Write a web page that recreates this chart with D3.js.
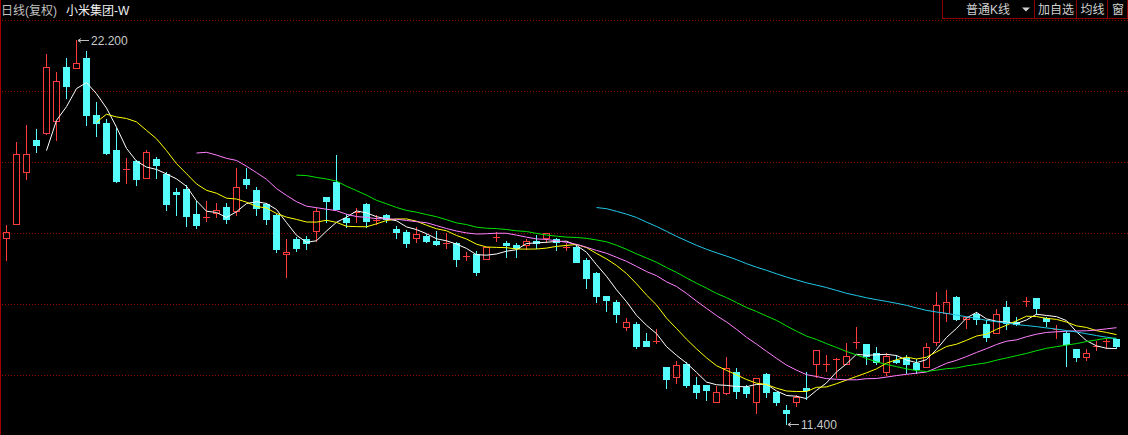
<!DOCTYPE html>
<html><head><meta charset="utf-8">
<script src="https://cdn.jsdelivr.net/npm/d3@7/dist/d3.min.js"></script>
<style>
html,body{margin:0;padding:0;background:#000;overflow:hidden}
svg{display:block}
text{font-family:"Liberation Sans","Noto Sans CJK SC",sans-serif}
</style></head><body>
<svg id="c" width="1128" height="435"></svg>
<script>
const days = d3.range(112);
const open = [16.62,17.02,18.50,19.39,19.59,19.93,21.43,21.40,21.70,20.09,
19.87,19.11,18.56,18.81,18.33,18.84,18.43,17.93,18.01,17.31,
17.21,17.33,17.50,17.40,18.28,17.97,17.58,17.27,16.17,16.60,
16.60,16.83,17.78,18.21,17.19,17.36,17.58,17.14,17.28,16.88,
16.79,16.64,16.69,16.55,16.50,16.48,16.13,16.17,16.03,16.67,
16.48,16.43,16.43,16.56,16.62,16.60,16.39,16.39,16.01,15.64,
15.00,14.82,14.12,14.21,13.73,13.73,12.99,12.73,13.09,12.50,
12.50,12.03,12.28,12.87,12.43,12.03,12.81,12.31,11.79,12.01,
12.40,13.08,13.08,13.24,13.08,13.71,13.65,13.39,12.85,13.20,
13.26,13.12,13.01,13.71,14.51,14.96,14.35,14.49,14.21,13.95,
14.68,14.28,14.86,14.94,14.37,14.07,13.95,13.51,13.28,13.59,
13.73,13.79];
const high = [17.00,19.32,19.81,19.69,21.81,21.30,21.70,22.20,21.90,20.45,
19.97,19.72,18.87,18.83,19.11,18.92,18.48,18.03,18.12,17.67,
17.67,17.62,17.61,18.59,18.61,18.06,17.61,17.31,16.60,16.67,
16.69,17.47,17.78,18.97,17.31,17.48,17.62,17.28,17.30,16.97,
16.86,16.93,16.74,16.83,16.76,16.53,16.23,16.27,16.39,16.81,
16.55,16.48,16.60,16.72,16.76,16.64,16.48,16.43,16.06,15.68,
15.00,14.88,14.37,14.28,13.95,14.06,12.99,13.17,13.15,12.73,
12.50,12.48,13.28,12.98,12.50,12.69,12.84,12.31,11.93,12.22,
12.85,13.47,13.34,13.26,13.67,14.12,13.65,13.57,13.39,13.34,
13.34,13.22,13.69,15.11,15.17,15.00,14.42,14.54,14.33,14.63,
14.86,14.40,14.98,14.94,14.40,14.18,14.02,13.51,13.50,13.73,
13.81,13.79];
const low = [16.01,17.02,18.29,19.04,19.55,19.39,20.56,21.40,19.81,19.51,
18.99,18.21,18.19,18.12,18.31,18.33,17.42,17.28,16.97,16.92,
17.11,17.23,17.04,17.28,18.03,17.27,17.02,16.23,15.54,16.27,
16.31,16.56,17.09,17.46,16.95,17.08,16.93,17.02,17.09,16.64,
16.39,16.51,16.53,16.43,16.36,15.85,16.01,15.59,16.03,16.56,
16.11,16.11,16.32,16.34,16.51,16.29,16.29,15.96,15.22,14.82,
14.59,14.28,14.04,13.55,13.60,13.67,12.40,12.54,12.45,12.14,
12.08,12.03,12.24,12.14,12.17,11.70,12.15,11.93,11.40,11.91,
12.10,12.73,12.90,12.71,13.08,13.53,13.08,13.08,12.78,13.11,
12.83,12.84,13.01,13.62,14.31,14.33,14.09,14.20,13.74,13.95,
14.06,14.18,14.73,14.49,14.16,13.83,13.04,13.17,13.20,13.48,
13.53,13.53];
const close = [16.79,18.99,18.99,19.25,21.43,21.04,20.91,21.54,20.09,19.87,
19.01,18.23,18.56,18.29,19.04,18.68,17.59,17.87,17.25,17.00,
17.21,17.42,17.16,18.06,18.15,17.47,17.17,16.31,16.23,16.36,
16.48,17.39,17.68,17.46,17.07,17.36,17.12,17.14,17.17,16.79,
16.50,16.74,16.56,16.46,16.50,16.04,16.13,15.68,16.39,16.67,
16.43,16.34,16.55,16.48,16.76,16.53,16.39,15.96,15.51,15.01,
14.90,14.50,14.28,13.60,13.60,13.73,12.67,13.06,12.50,12.31,
12.36,12.29,12.97,12.34,12.28,12.69,12.31,12.03,11.70,12.17,
12.36,13.47,13.08,13.24,13.31,13.71,13.32,13.15,13.31,13.14,
13.08,12.95,13.57,14.75,14.82,14.35,14.42,14.35,13.84,14.49,
14.23,14.21,14.86,14.65,14.31,14.07,13.65,13.29,13.39,13.59,
13.73,13.60];
const maPeriods = [5, 10, 20, 30, 60];
const maColors = ["#ffffff", "#ffff00", "#ff80ff", "#00e400", "#20c8e8"];
const gridPrices = [22.77, 20.77, 18.77, 16.77, 14.77, 12.77];
const titleLeft = "日线(复权)";
const titleName = "小米集团-W";
const buttons = ["普通K线", "加自选", "均线", "窗"];
const maxLabel = "22.200", minLabel = "11.400";

const svg = d3.select("#c");
const UP = "#ff3c3c", DOWN = "#54fcfc", GRID = "#8c0000";
const x = d3.scaleLinear().domain([0, 111]).range([6, 1116]);
const y = d3.scaleLinear().domain([11.4, 22.2]).range([424, 40]);

// grid
svg.append("g").selectAll("line").data(gridPrices).join("line")
  .attr("x1", 2).attr("x2", 1128)
  .attr("y1", d => Math.round(y(d)) + 0.5).attr("y2", d => Math.round(y(d)) + 0.5)
  .attr("stroke", GRID).attr("stroke-dasharray", "1,2");
// left border
svg.append("line").attr("x1", 0.5).attr("x2", 0.5).attr("y1", 0).attr("y2", 435)
  .attr("stroke", "#a00000");

// candles
const g = svg.append("g").attr("shape-rendering", "crispEdges");
days.forEach(i => {
  const cx = Math.round(x(i));
  const o = open[i], c = close[i], h = high[i], l = low[i];
  const up = c >= o;
  const col = up ? UP : DOWN;
  const yt = Math.round(y(Math.max(o, c))), yb = Math.round(y(Math.min(o, c)));
  const yh = Math.round(y(h)), yl = Math.round(y(l));
  if (up) {
    if (yb - yt <= 1) {
      g.append("line").attr("x1", cx + 0.5).attr("x2", cx + 0.5).attr("y1", yh).attr("y2", yl + 1).attr("stroke", col);
      g.append("line").attr("x1", cx - 3).attr("x2", cx + 4).attr("y1", yt + 0.5).attr("y2", yt + 0.5).attr("stroke", col);
    } else {
      if (yh < yt) g.append("line").attr("x1", cx + 0.5).attr("x2", cx + 0.5).attr("y1", yh).attr("y2", yt).attr("stroke", col);
      if (yl > yb) g.append("line").attr("x1", cx + 0.5).attr("x2", cx + 0.5).attr("y1", yb + 1).attr("y2", yl + 1).attr("stroke", col);
      g.append("rect").attr("x", cx - 2.5).attr("y", yt + 0.5).attr("width", 6).attr("height", yb - yt)
        .attr("fill", "none").attr("stroke", col);
    }
  } else {
    g.append("line").attr("x1", cx + 0.5).attr("x2", cx + 0.5).attr("y1", yh).attr("y2", yl + 1).attr("stroke", col);
    g.append("rect").attr("x", cx - 3).attr("y", yt).attr("width", 7).attr("height", Math.max(1, yb - yt + 1))
      .attr("fill", col);
  }
});

// moving averages
maPeriods.forEach((p, k) => {
  const pts = days.filter(i => i >= p - 1).map(i => [i, d3.mean(close.slice(i - p + 1, i + 1))]);
  svg.append("path").datum(pts)
    .attr("d", d3.line().x(d => x(d[0]) + 0.5).y(d => y(d[1])))
    .attr("fill", "none").attr("stroke", maColors[k]).attr("stroke-width", 1);
});

// extreme labels
function mark(idx, val, label) {
  const px = Math.round(x(idx)) + 2, py = Math.round(y(val)) + 0.5;
  svg.append("path").attr("d", `M${px + 11},${py}H${px}M${px + 3},${py - 2}L${px},${py}L${px + 3},${py + 2}`)
    .attr("stroke", "#c0c0c0").attr("fill", "none");
  svg.append("text").attr("x", px + 13).attr("y", py + 4.5).attr("fill", "#c8c8c8")
    .attr("font-size", 12).text(label);
}
mark(high.indexOf(d3.max(high)), d3.max(high), maxLabel);
mark(low.indexOf(d3.min(low)), d3.min(low), minLabel);

// header
svg.append("text").attr("x", 1).attr("y", 15).attr("font-size", 12).attr("fill", "#c0c0c0").text(titleLeft);
svg.append("text").attr("x", 66).attr("y", 15).attr("font-size", 12).attr("fill", "#f0f0f0").text(titleName);
const bx = [942, 1034, 1076, 1107, 1127];
const hb = svg.append("g");
buttons.forEach((b, k) => {
  hb.append("rect").attr("x", bx[k] + 0.5).attr("y", -1).attr("width", bx[k + 1] - bx[k]).attr("height", 19.5)
    .attr("fill", "#000").attr("stroke", "#8c0000");
  const tx = k === 0 ? 988 : (bx[k] + bx[k + 1]) / 2 + 1;
  hb.append("text").attr("x", tx).attr("y", 14).attr("text-anchor", "middle").attr("font-size", 12)
    .attr("fill", "#d0d0d0").text(b);
});
hb.append("path").attr("d", "M1022,7.5h8l-4,4z").attr("fill", "#d0d0d0");
</script></body></html>
